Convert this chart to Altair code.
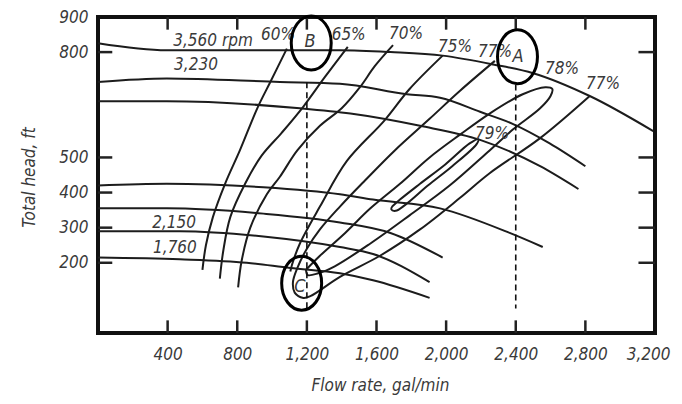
import altair as alt
import pandas as pd

FONT = "Liberation Sans Narrow, DejaVu Sans Condensed, Arial Narrow, sans-serif"

# ---------------- axis values ----------------
x_label_vals = [400, 800, 1200, 1600, 2000, 2400, 2800, 3200]
x_tick_vals = [400, 800, 1200, 1600, 2000, 2400, 2800]
y_label_vals = [200, 300, 400, 500, 800, 900]
y_tick_vals = [200, 300, 400, 500, 800]

# ---------------- head curves (flow gal/min, head ft) ----------------
s3560_q = [0, 395, 875, 1390, 1680, 1980, 2270, 2500, 2825, 3190]
s3560_h = [825, 805, 805, 805, 800, 790, 765, 740, 675, 575]
s3230_q = [0, 395, 1045, 1390, 1775, 1965, 2195, 2385, 2595, 2800]
s3230_h = [715, 725, 715, 710, 680, 670, 630, 595, 540, 475]
s3_q = [0, 395, 1160, 1450, 1850, 2195, 2540, 2760]
s3_h = [660, 660, 640, 625, 590, 550, 475, 410]
s4_q = [0, 395, 950, 1390, 1580, 1965, 2365, 2555]
s4_h = [420, 425, 415, 395, 380, 355, 285, 245]
s5_q = [0, 395, 950, 1390, 1680, 1980]
s5_h = [355, 355, 340, 315, 285, 215]
s2150_q = [0, 470, 950, 1390, 1580, 1905]
s2150_h = [290, 290, 275, 245, 225, 145]
s1760_q = [0, 470, 855, 1105, 1390, 1580, 1905]
s1760_h = [215, 210, 200, 185, 170, 150, 100]

# ---------------- efficiency contours ----------------
e60_q = [600, 620, 660, 730, 815, 915, 990, 1085]
e60_h = [180, 250, 330, 425, 520, 640, 715, 810]
e65_q = [700, 720, 760, 845, 940, 1055, 1180, 1305, 1435]
e65_h = [155, 235, 330, 425, 505, 570, 645, 730, 815]
e70_q = [805, 825, 875, 970, 1045, 1145, 1275, 1400, 1505, 1590, 1695]
e70_h = [130, 205, 300, 395, 445, 520, 590, 640, 700, 760, 820]
e75_q = [1105, 1115, 1160, 1275, 1430, 1645, 1790, 1980]
e75_h = [175, 195, 255, 360, 490, 605, 695, 790]
e77_q = [2280, 2080, 1905, 1705, 1535, 1390, 1275, 1200, 1145, 1120, 1130, 1180,
         1220, 1390, 1620, 1850, 2080, 2250, 2540, 2825]
e77_h = [775, 690, 610, 520, 435, 360, 295, 240, 185, 145, 115, 100,
         105, 160, 220, 295, 385, 455, 555, 675]
e78_q = [1195, 1275, 1420, 1565, 1735, 1905, 2080, 2250, 2440, 2570, 2610, 2600,
         2540, 2385, 2250, 2020, 1790, 1565, 1360, 1265, 1205, 1195]
e78_h = [180, 220, 285, 355, 425, 500, 565, 625, 680, 700, 695, 675,
         640, 580, 520, 420, 335, 255, 190, 170, 165, 180]
e79_q = [1690, 1735, 1850, 1995, 2135, 2185, 2175, 2035, 1895, 1765, 1710, 1685, 1690]
e79_h = [360, 380, 425, 480, 540, 552, 538, 475, 420, 365, 348, 352, 360]

# ---------------- text labels ----------------
lab_text = ["3,560 rpm", "3,230", "2,150", "1,760", "60%", "65%", "70%", "75%",
            "77%", "78%", "77%", "79%"]
lab_q = [661, 563, 437, 442, 1034, 1440, 1770, 2051, 2281, 2666, 2901, 2264]
lab_h = [832, 764, 314, 243, 849, 849, 852, 815, 801, 753, 708, 566]

# operating points A, B, C
pt_text = ["A", "B", "C"]
pt_q = [2410, 1225, 1170]
pt_h = [787, 826, 142]
pt_label_q = [2413, 1218, 1160]
pt_label_h = [787, 829, 132]

# dashed verticals
dash_q = [2400, 1200]
dash_h_top = [708, 714]
dash_h_bot = [70, 70]

# ---------------- build tables ----------------
speed = [("3560", s3560_q, s3560_h), ("3230", s3230_q, s3230_h), ("s3", s3_q, s3_h),
         ("s4", s4_q, s4_h), ("s5", s5_q, s5_h), ("2150", s2150_q, s2150_h),
         ("1760", s1760_q, s1760_h)]
eff = [("60", e60_q, e60_h), ("65", e65_q, e65_h), ("70", e70_q, e70_h),
       ("75", e75_q, e75_h), ("77", e77_q, e77_h), ("78", e78_q, e78_h),
       ("79", e79_q, e79_h)]

def table(groups):
    rows = []
    for name, qs, hs in groups:
        for i, (q, h) in enumerate(zip(qs, hs)):
            rows.append({"curve": name, "order": i, "Q": q, "H": h})
    return pd.DataFrame(rows)

speed_df = table(speed)
eff_df = table(eff)
labels_df = pd.DataFrame({"t": lab_text, "Q": lab_q, "H": lab_h})
pts_df = pd.DataFrame({"t": pt_text, "Q": pt_q, "H": pt_h, "LQ": pt_label_q, "LH": pt_label_h})
dash_df = pd.DataFrame({"Q": dash_q, "H": dash_h_top, "H2": dash_h_bot})

xs = alt.Scale(domain=[0, 3200], nice=False, zero=False)
ys = alt.Scale(domain=[0, 900], nice=False, zero=False)

X = alt.X("Q:Q", scale=xs, axis=alt.Axis(
    values=x_label_vals, format=",d", ticks=False, domain=False, grid=False,
    labelOverlap=False, labelFlush=True, labelFlushOffset=15, labelPadding=13,
    labelFontSize=17, labelFont=FONT, labelFontStyle="italic", labelColor="#3a3a3a",
    title="Flow rate, gal/min", titleFont=FONT, titleFontSize=17,
    titleFontStyle="italic", titleFontWeight="normal", titleColor="#3a3a3a",
    titleX=282, titleY=52, titleBaseline="middle"))
Y = alt.Y("H:Q", scale=ys, axis=alt.Axis(
    values=y_label_vals, format="d", ticks=False, domain=False, grid=False,
    labelOverlap=False, labelFlush=False, labelPadding=10, labelFontSize=17,
    labelFont=FONT, labelFontStyle="italic", labelColor="#3a3a3a",
    title="Total head, ft", titleFont=FONT, titleFontSize=17,
    titleFontStyle="italic", titleFontWeight="normal", titleColor="#3a3a3a",
    titleX=-69, titleY=160, titleAngle=270, titleAlign="center",
    titleBaseline="middle"))

base_x = alt.X("Q:Q", scale=xs)
base_y = alt.Y("H:Q", scale=ys)

speed_layer = alt.Chart(speed_df).mark_line(
    color="#1c1c1c", strokeWidth=2, interpolate="monotone").encode(
    x=X, y=Y, detail="curve:N", order="order:Q")

eff_layer = alt.Chart(eff_df).mark_line(
    color="#1c1c1c", strokeWidth=2, interpolate="catmull-rom").encode(
    x=base_x, y=base_y, detail="curve:N", order="order:Q")

dash_layer = alt.Chart(dash_df).mark_rule(
    color="#111", strokeWidth=1.6, strokeDash=[6, 4]).encode(
    x=base_x, y=base_y, y2="H2:Q")

# inward tick marks on all four sides
bt = pd.DataFrame({"Q": x_tick_vals, "H": [0] * len(x_tick_vals), "H2": [36] * len(x_tick_vals)})
tt = pd.DataFrame({"Q": x_tick_vals, "H": [900] * len(x_tick_vals), "H2": [864] * len(x_tick_vals)})
lt = pd.DataFrame({"H": y_tick_vals, "Q": [0] * len(y_tick_vals), "Q2": [82] * len(y_tick_vals)})
rt = pd.DataFrame({"H": y_tick_vals, "Q": [3200] * len(y_tick_vals), "Q2": [3105] * len(y_tick_vals)})
tick_v = alt.Chart(pd.concat([bt, tt])).mark_rule(color="#222", strokeWidth=2.5).encode(
    x=base_x, y=base_y, y2="H2:Q")
tick_h = alt.Chart(pd.concat([lt, rt])).mark_rule(color="#222", strokeWidth=2.5).encode(
    x=base_x, x2="Q2:Q", y=base_y)

text_layer = alt.Chart(labels_df).mark_text(
    font=FONT, fontSize=17, fontStyle="italic", color="#3a3a3a").encode(
    x=base_x, y=base_y, text="t:N")

ellipse = "M -0.74 0 A 0.74 1 0 1 0 0.74 0 A 0.74 1 0 1 0 -0.74 0 Z"
ring_layer = alt.Chart(pts_df).mark_point(
    shape=ellipse, size=2916, filled=False, stroke="black", strokeWidth=3, opacity=1).encode(
    x=base_x, y=base_y)
pt_text_layer = alt.Chart(pts_df).mark_text(
    font=FONT, fontSize=18, fontStyle="italic", color="#3a3a3a").encode(
    x=alt.X("LQ:Q", scale=xs), y=alt.Y("LH:Q", scale=ys), text="t:N")

chart = alt.layer(
    speed_layer, eff_layer, dash_layer, tick_v, tick_h, text_layer, ring_layer, pt_text_layer
).properties(
    width=557, height=316,
    padding={"left": 90, "top": 9, "right": 19, "bottom": 68},
    autosize=alt.AutoSizeParams(type="none"),
).configure(
    background="white",
    view=alt.ViewConfig(stroke="#111", strokeWidth=4),
)

chart.save("out.html", embed_options={"renderer": "svg", "actions": False})
